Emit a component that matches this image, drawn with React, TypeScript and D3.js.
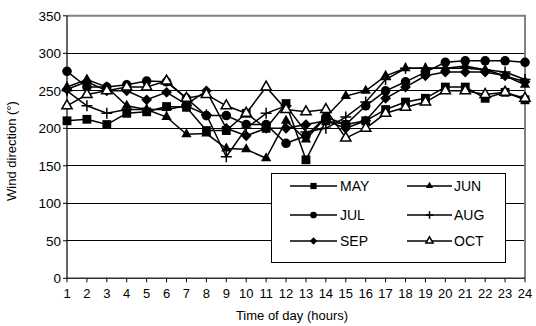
import React from "react";
import * as d3 from "d3";

const hours = d3.range(1, 25);
const yTicks = [0, 50, 100, 150, 200, 250, 300, 350];

const may = [210, 212, 205, 220, 222, 229, 228, 197, 197, 220, 200, 233, 158, 210, 205, 210, 225, 235, 240, 255, 255, 240, 248, 238];
const jun = [255, 265, 255, 230, 225, 215, 192, 193, 173, 172, 160, 210, 185, 215, 243, 250, 270, 280, 280, 280, 283, 278, 270, 258];
const jul = [276, 255, 255, 258, 263, 262, 240, 217, 217, 205, 205, 180, 190, 215, 205, 230, 250, 262, 275, 288, 290, 290, 290, 288];
const aug = [250, 230, 220, 225, 225, 225, 230, 218, 162, 200, 220, 230, 195, 200, 215, 235, 265, 280, 280, 280, 280, 278, 275, 265];
const sep = [252, 262, 250, 250, 238, 248, 232, 250, 200, 190, 200, 200, 205, 210, 200, 210, 240, 255, 270, 275, 275, 275, 270, 262];
const oct = [230, 245, 250, 255, 255, 263, 240, 245, 230, 220, 255, 225, 222, 225, 187, 200, 220, 228, 235, 250, 250, 245, 248, 240];

type Marker = "square" | "triangle" | "circle" | "plus" | "diamond" | "openTriangle";

const series: { name: string; values: number[]; marker: Marker }[] = [
  { name: "MAY", values: may, marker: "square" },
  { name: "JUN", values: jun, marker: "triangle" },
  { name: "JUL", values: jul, marker: "circle" },
  { name: "AUG", values: aug, marker: "plus" },
  { name: "SEP", values: sep, marker: "diamond" },
  { name: "OCT", values: oct, marker: "openTriangle" },
];

const width = 536;
const height = 326;
const plot = { left: 67, right: 525, top: 15.8, bottom: 278.3 };
const font = "Arial, 'Liberation Sans', sans-serif";

const x = d3.scaleLinear().domain([1, 24]).range([plot.left, plot.right]);
const y = d3.scaleLinear().domain([0, 350]).range([plot.bottom, plot.top]);

function MarkerShape({ type, cx, cy, scale = 1 }: { type: Marker; cx: number; cy: number; scale?: number }) {
  const t = `translate(${cx},${cy})`;
  const k = scale * scale;
  if (type === "plus") {
    const r = 5.5 * scale;
    return (
      <path transform={t} d={`M${-r},0H${r}M0,${-r}V${r}`} stroke="#000" strokeWidth={1.5} fill="none" />
    );
  }
  if (type === "square") {
    return <path transform={t} d={d3.symbol(d3.symbolSquare, 78 * k)()!} fill="#000" />;
  }
  if (type === "circle") {
    return <path transform={t} d={d3.symbol(d3.symbolCircle, 72 * k)()!} fill="#000" />;
  }
  if (type === "diamond") {
    return (
      <path transform={`${t} rotate(45)`} d={d3.symbol(d3.symbolSquare, 58 * k)()!} fill="#000" />
    );
  }
  const tri = d3.symbol(d3.symbolTriangle, 46 * k)()!;
  if (type === "triangle") {
    return <path transform={t} d={tri} fill="#000" />;
  }
  return <path transform={t} d={tri} fill="#fff" stroke="#000" strokeWidth={1.5} />;
}

export default function App() {
  const line = d3
    .line<number>()
    .x((_, i) => x(hours[i]))
    .y((d) => y(d));

  const legend = { x: 271, y: 173, w: 234, h: 89 };
  const legendRows = [186, 215, 241];
  const legendCols = [
    { x1: 290, x2: 337, text: 340 },
    { x1: 407, x2: 452, text: 454 },
  ];

  return (
    <svg
      width={width}
      height={height}
      style={{ position: "absolute", left: 0, top: 0, background: "#fff" }}
      fontFamily={font}
    >
      {/* gridlines */}
      {yTicks.slice(1, -1).map((t) => (
        <line key={t} x1={plot.left} x2={plot.right} y1={y(t)} y2={y(t)} stroke="#000" strokeWidth={1} shapeRendering="crispEdges" />
      ))}
      {/* plot border top/right */}
      <path
        d={`M${plot.left},${y(350)}H${plot.right}V${plot.bottom}`}
        fill="none"
        stroke="#808080"
        strokeWidth={2}
      />

      {/* y axis */}
      <line x1={plot.left} x2={plot.left} y1={plot.top} y2={plot.bottom} stroke="#000" strokeWidth={1.2} />
      {yTicks.map((t) => (
        <g key={t}>
          <line x1={plot.left - 4} x2={plot.left} y1={y(t)} y2={y(t)} stroke="#000" />
          <text x={plot.left - 6} y={y(t)} dy="0.35em" textAnchor="end" fontSize={13.5} fill="#000">
            {t}
          </text>
        </g>
      ))}
      <text
        transform={`translate(16,${(plot.top + plot.bottom) / 2 + 4}) rotate(-90)`}
        textAnchor="middle"
        fontSize={13}
        fill="#000"
      >
        Wind direction (°)
      </text>

      {/* x axis */}
      <line x1={plot.left} x2={plot.right} y1={plot.bottom} y2={plot.bottom} stroke="#333" strokeWidth={1.5} />
      {hours.map((h) => (
        <g key={h}>
          <line x1={x(h)} x2={x(h)} y1={plot.bottom} y2={plot.bottom + 4} stroke="#000" />
          <text x={x(h)} y={plot.bottom + 20} textAnchor="middle" fontSize={13} fill="#000">
            {h}
          </text>
        </g>
      ))}
      <text x={292} y={320} textAnchor="middle" fontSize={13} fill="#000">
        Time of day (hours)
      </text>

      {/* series */}
      {series.map((s) => (
        <g key={s.name}>
          <path d={line(s.values)!} fill="none" stroke="#000" strokeWidth={1.5} />
          {s.values.map((v, i) => (
            <MarkerShape key={i} type={s.marker} cx={x(hours[i])} cy={y(v)} />
          ))}
        </g>
      ))}

      {/* legend */}
      <rect x={legend.x} y={legend.y} width={legend.w} height={legend.h} fill="#fff" stroke="#000" strokeWidth={1} shapeRendering="crispEdges" />
      {series.map((s, i) => {
        const col = legendCols[i % 2];
        const ry = legendRows[Math.floor(i / 2)];
        const mx = (col.x1 + col.x2) / 2;
        return (
          <g key={s.name}>
            <line x1={col.x1} x2={col.x2} y1={ry} y2={ry} stroke="#000" strokeWidth={1.5} />
            <MarkerShape type={s.marker} cx={mx} cy={ry} scale={0.7} />
            <text x={col.text} y={ry} dy="0.36em" fontSize={14} fill="#000">
              {s.name}
            </text>
          </g>
        );
      })}
    </svg>
  );
}
